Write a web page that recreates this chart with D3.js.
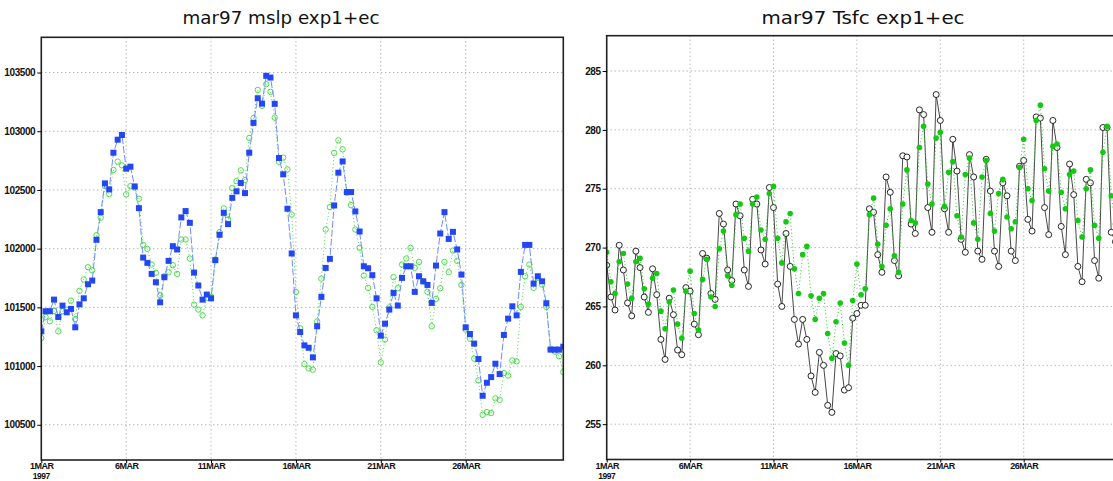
<!DOCTYPE html>
<html>
<head>
<meta charset="utf-8">
<script src="https://cdn.jsdelivr.net/npm/d3@7"></script>
<style>
  body { margin: 0; background: #fff; }
  svg { display: block; }
  .tick text { font-family: "Liberation Sans", Arial, sans-serif; font-weight: bold; font-size: 10px; fill: #111; }
  .x.axis .tick text { font-size: 9px; }
  .title { font-family: "DejaVu Sans", sans-serif; font-size: 17px; fill: #111; }
</style>
</head>
<body>
<svg id="chart"></svg>
<script>
// 6-hourly values, 1MAR1997 00Z .. 31MAR1997 18Z (124 steps)
let mslpExp1 = [101296,101467,101467,101566,101418,101515,101458,101487,101330,101526,101577,101697,101728,102075,102311,102556,
  102505,102817,102928,102968,102681,102698,102530,102345,101924,101879,101785,101714,101543,101757,101896,102021,
  101993,102266,102320,102220,101796,101686,101566,101609,101577,101902,102118,102305,102209,102433,102488,102559,
  102473,102817,103071,103281,103235,103472,103457,103233,102772,102633,102340,101959,101432,101290,101176,101156,
  101074,101339,101589,101836,101913,102368,102647,102743,102482,102482,102317,102146,101850,101833,101774,101577,
  101259,101361,101481,101623,101515,101751,101850,101850,101632,101765,101722,101691,101538,101856,102129,102311,
  102083,102143,101993,101779,101330,101273,101191,101060,100747,100858,100906,101020,100932,101265,101404,101509,
  101432,101802,102032,102032,101702,101765,101722,101535,101140,101140,101140,101165]

let mslpEc = [101239,101419,101381,101470,101296,101467,101480,101558,101401,101640,101737,101842,101816,102115,102263,102533,
  102465,102670,102741,102709,102462,102533,102520,102425,102032,101998,101865,101794,101600,101765,101799,101859,
  101785,102078,102078,101916,101523,101481,101432,101580,101589,101907,102140,102343,102250,102516,102576,102667,
  102584,102943,103113,103352,103216,103400,103335,103116,102740,102775,102675,102291,101632,101322,101017,100980,
  100969,101380,101745,102163,102354,102815,102923,102846,102476,102371,102163,102007,101771,101666,101504,101305,
  101031,101225,101500,101757,101663,101865,101916,102007,101836,101887,101720,101632,101339,101572,101663,101887,
  101799,101984,101896,101691,101310,101233,101063,100878,100585,100608,100600,100725,100713,100940,100920,101048,
  101040,101504,101765,101865,101666,101751,101694,101504,101145,101123,101083,100949]

let tsfcExp1 = [268.5,265.8,264.7,270.2,268.1,265.3,264.2,269.7,268.3,265.8,264.5,268.2,266.0,262.2,260.5,265.7,
  264.3,261.3,260.9,266.6,266.3,263.5,262.6,269.5,269.1,266.1,265.6,272.9,272.0,268.1,267.2,273.7,
  272.7,268.1,266.7,274.1,273.7,269.8,268.6,275.1,273.4,266.9,265.0,271.2,268.4,263.9,261.8,263.9,
  262.2,259.1,257.7,261.1,260.0,256.6,256.0,261.0,260.8,257.9,258.1,264.0,264.4,265.1,265.1,273.3,
  273.0,269.4,267.9,276.0,274.7,268.9,267.6,277.8,277.7,272.0,271.2,281.7,281.3,273.4,271.3,283.0,
  280.8,273.3,271.3,279.2,276.5,270.7,269.6,277.9,276.0,269.7,269.0,277.5,274.8,269.7,268.4,275.5,
  274.4,269.7,268.9,276.9,277.4,272.4,271.4,281.1,281.0,273.4,271.1,280.8,278.5,271.8,269.4,277.1,
  274.5,268.4,267.1,275.8,275.5,268.9,267.4,280.2,280.2,271.3,270.5,276.0]

let tsfcEc = [269.6,267.1,266.1,268.8,269.5,266.9,265.7,268.8,269.1,266.5,265.2,267.4,267.8,264.6,263.1,265.4,
  266.4,263.5,262.3,266.3,268.0,264.4,263.0,267.3,269.0,265.8,265.0,269.9,271.4,267.6,266.8,272.8,
  273.7,270.8,269.7,273.7,274.3,271.5,270.7,274.6,275.2,270.8,268.7,272.2,272.9,268.2,266.1,269.4,
  270.1,265.9,263.9,265.7,266.1,262.7,260.6,263.7,265.3,261.9,260.0,265.5,268.6,266.0,266.5,272.8,
  274.2,270.3,268.4,271.9,273.3,269.3,267.9,273.7,276.6,272.3,272.1,278.5,280.3,275.4,273.7,279.3,
  279.8,273.5,276.4,277.3,272.7,270.9,276.2,277.6,272.1,270.7,276.0,277.4,272.9,271.4,274.6,275.8,
  272.6,271.6,272.2,276.8,279.2,275.0,274.0,280.8,282.1,276.7,274.8,278.6,278.8,274.7,273.3,276.2,
  276.5,272.3,270.9,275.0,276.6,271.9,270.8,278.1,280.3,274.4,272.0,271.0]

let mslpTicks = [100500, 101000, 101500, 102000, 102500, 103000, 103500]
let tsfcTicks = [255, 260, 265, 270, 275, 280, 285]
let dayTicks = [1, 6, 11, 16, 21, 26]

let times = d3.range(124).map(i => new Date(Date.UTC(1997, 2, 1, i * 6)))

let w = 1113, h = 481

let svg = d3.select("#chart")
    .attr("width", w)
    .attr("height", h)

function drawPanel(p) {
    let x = d3.scaleUtc()
        .domain([times[0], times[times.length - 1]])
        .range([p.left, p.right])

    let y = d3.scaleLinear()
        .domain(p.yDomain)
        .range([p.bottom, p.top])

    let g = svg.append("g")

    g.append("clipPath")
        .attr("id", p.id + "-clip")
        .append("rect")
        .attr("x", p.left)
        .attr("y", p.top)
        .attr("width", p.right - p.left)
        .attr("height", p.bottom - p.top)

    //dotted grid
    let tickDates = dayTicks.map(d => new Date(Date.UTC(1997, 2, d)))
    g.selectAll("line.vgrid")
        .data(tickDates)
        .enter()
        .append("line")
        .attr("x1", d => x(d)).attr("x2", d => x(d))
        .attr("y1", p.top).attr("y2", p.bottom)
        .attr("stroke", "#999")
        .attr("stroke-dasharray", "1,3")

    g.selectAll("line.hgrid")
        .data(p.yTicks)
        .enter()
        .append("line")
        .attr("x1", p.left).attr("x2", p.right)
        .attr("y1", d => y(d)).attr("y2", d => y(d))
        .attr("stroke", "#999")
        .attr("stroke-dasharray", "1,3")

    let plot = g.append("g").attr("clip-path", "url(#" + p.id + "-clip)")

    let line = vals => d3.line()
        .x((d, i) => x(times[i]))
        .y(d => y(d))(vals)

    p.series.forEach(s => {
        plot.append("path")
            .attr("d", line(s.values))
            .attr("fill", "none")
            .attr("stroke", s.lineColor)
            .attr("stroke-width", s.lineWidth)
            .attr("stroke-dasharray", s.dash)

        if (s.marker == "square") {
            plot.selectAll(null)
                .data(s.values)
                .enter()
                .append("rect")
                .attr("x", (d, i) => x(times[i]) - 3)
                .attr("y", d => y(d) - 3)
                .attr("width", 6)
                .attr("height", 6)
                .attr("fill", s.fill)
        } else {
            plot.selectAll(null)
                .data(s.values)
                .enter()
                .append("circle")
                .attr("cx", (d, i) => x(times[i]))
                .attr("cy", d => y(d))
                .attr("r", s.r)
                .attr("fill", s.fill)
                .attr("stroke", s.stroke)
                .attr("stroke-width", 0.9)
        }
    })

    //frame
    g.append("rect")
        .attr("x", p.left)
        .attr("y", p.top)
        .attr("width", p.right - p.left)
        .attr("height", p.bottom - p.top)
        .attr("fill", "none")
        .attr("stroke", "#222")
        .attr("stroke-width", 1.6)

    let yAxis = d3.axisLeft(y)
        .tickValues(p.yTicks)
        .tickSize(4)
        .tickPadding(2)
        .tickFormat(d3.format("d"))

    g.append("g")
        .attr("transform", "translate(" + p.left + ",0)")
        .call(yAxis)
        .call(a => a.select(".domain").remove())
        .selectAll("text")
        .attr("letter-spacing", "-0.4")

    let xAxis = d3.axisBottom(x)
        .tickValues(tickDates)
        .tickSize(3)
        .tickPadding(0)
        .tickFormat(d => d.getUTCDate() + "MAR")

    let xa = g.append("g")
        .attr("class", "x axis")
        .attr("transform", "translate(0," + p.bottom + ")")
        .call(xAxis)
        .call(a => a.select(".domain").remove())

    xa.selectAll("text")
        .attr("letter-spacing", "-0.5")

    xa.append("text")
        .attr("x", x(tickDates[0]))
        .attr("y", 19.4)
        .attr("text-anchor", "middle")
        .attr("fill", "#111")
        .attr("letter-spacing", "-0.5")
        .style("font-family", "Liberation Sans, Arial, sans-serif")
        .style("font-weight", "bold")
        .style("font-size", "8.5px")
        .text("1997")

    svg.append("text")
        .attr("class", "title")
        .attr("x", p.titleX)
        .attr("y", 24)
        .attr("text-anchor", "middle")
        .attr("textLength", p.titleLen)
        .attr("lengthAdjust", "spacingAndGlyphs")
        .text(p.title)
}

drawPanel({
    id: "mslp",
    title: "mar97 mslp exp1+ec",
    titleX: 281, titleLen: 197,
    left: 41.3, right: 563.3, top: 37.3, bottom: 460,
    yDomain: [100200, 103800],
    yTicks: mslpTicks,
    series: [
        {values: mslpEc, lineColor: "#44dd44", lineWidth: 1, dash: "1,2.5", marker: "circle", r: 2.7, fill: "none", stroke: "#3cd83c"},
        {values: mslpExp1, lineColor: "#6f8cff", lineWidth: 1, dash: "7,2", marker: "square", fill: "#2447f5"}
    ]
})

drawPanel({
    id: "tsfc",
    title: "mar97 Tsfc exp1+ec",
    titleX: 863, titleLen: 203,
    left: 606.7, right: 1119.6, top: 35.7, bottom: 459.5,
    yDomain: [252, 288],
    yTicks: tsfcTicks,
    series: [
        {values: tsfcExp1, lineColor: "#333", lineWidth: 0.9, dash: null, marker: "circle", r: 3, fill: "#fff", stroke: "#111"},
        {values: tsfcEc, lineColor: "#22cc22", lineWidth: 1, dash: "1,2.5", marker: "circle", r: 2.8, fill: "#14c814", stroke: "none"}
    ]
})
</script>
</body>
</html>
